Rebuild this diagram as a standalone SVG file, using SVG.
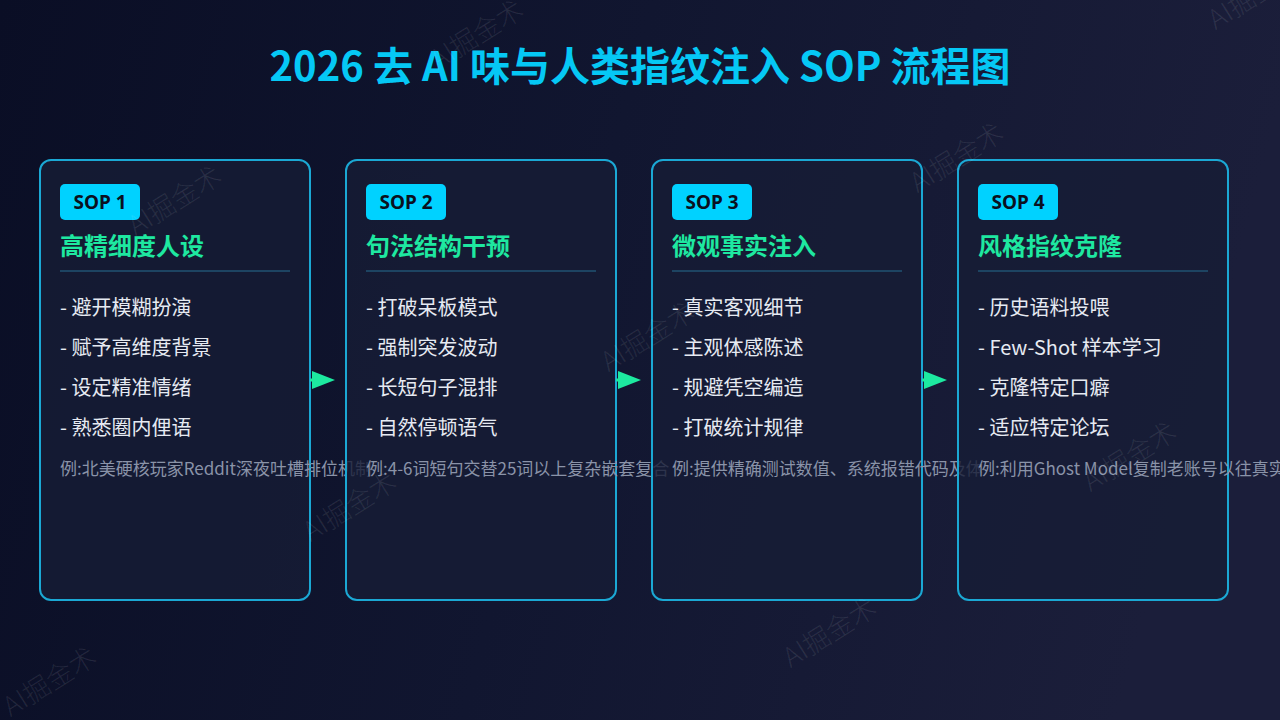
<svg xmlns="http://www.w3.org/2000/svg" width="1280" height="720" viewBox="0 0 1280 720">
<defs>
<linearGradient id="bg" x1="0" y1="0" x2="1" y2="0.15">
<stop offset="0" stop-color="#0a0e25"/>
<stop offset="0.5" stop-color="#111630"/>
<stop offset="1" stop-color="#1b1e3a"/>
</linearGradient>
<linearGradient id="uline" x1="0" y1="0" x2="1" y2="0">
<stop offset="0" stop-color="#1b5878"/>
<stop offset="0.5" stop-color="#1d5f80"/>
<stop offset="1" stop-color="#1b5878"/>
</linearGradient>
<marker id="arr" markerUnits="userSpaceOnUse" markerWidth="24" markerHeight="18" viewBox="0 0 24 18" refX="1" refY="9" orient="auto">
<path d="M0,0 L23,9 L0,18 Z" fill="#1de9a0"/>
</marker>
<style>
.card{fill:#171d36;fill-opacity:0.8;stroke:#1ba8d4;stroke-width:2}
.badge{fill:#00d2ff}
.badgeT{font-family:"Noto Sans","Noto Sans CJK SC",sans-serif;font-weight:700;font-size:19px;fill:#0a1020}
.head{font-family:"Noto Sans CJK SC",sans-serif;font-weight:700;font-size:24px;fill:#1ee8a0}
.div{stroke:#1d4462;stroke-width:2}
.item{font-family:"Noto Sans CJK SC",sans-serif;font-size:20px;fill:#e6eaf2}
.ex{font-family:"Noto Sans CJK SC",sans-serif;font-size:17px;fill:#8a93a8}
.wm{font-family:"Noto Sans CJK SC",sans-serif;font-weight:300;font-size:27px;fill:#ffffff;fill-opacity:0.09}
.conn{stroke:#1de9a0;stroke-width:3;fill:none}
</style>
</defs>
<rect width="1280" height="720" fill="url(#bg)"/>

<g id="title">
<text x="640" y="81" text-anchor="middle" font-family="'Noto Sans CJK SC',sans-serif" font-weight="700" font-size="40" fill="#05c8f5">2026 去 AI 味与人类指纹注入 SOP 流程图</text>
<line x1="160" y1="103" x2="1120" y2="103" stroke="url(#uline)" stroke-width="3"/>
</g>

<g id="sop1">
<rect class="card" x="40" y="160" width="270" height="440" rx="11"/>
<rect class="badge" x="60" y="184" width="80" height="36" rx="5"/>
<text class="badgeT" x="100" y="209" text-anchor="middle">SOP 1</text>
<text class="head" x="60" y="255">高精细度人设</text>
<line class="div" x1="60" y1="271" x2="290" y2="271"/>
<text class="item" x="60" y="315">- 避开模糊扮演</text>
<text class="item" x="60" y="355">- 赋予高维度背景</text>
<text class="item" x="60" y="395">- 设定精准情绪</text>
<text class="item" x="60" y="435">- 熟悉圈内俚语</text>
<text class="ex" x="60" y="475">例:北美硬核玩家Reddit深夜吐槽排位机制</text>
</g>

<g id="sop2">
<rect class="card" x="346" y="160" width="270" height="440" rx="11"/>
<rect class="badge" x="366" y="184" width="80" height="36" rx="5"/>
<text class="badgeT" x="406" y="209" text-anchor="middle">SOP 2</text>
<text class="head" x="366" y="255">句法结构干预</text>
<line class="div" x1="366" y1="271" x2="596" y2="271"/>
<text class="item" x="366" y="315">- 打破呆板模式</text>
<text class="item" x="366" y="355">- 强制突发波动</text>
<text class="item" x="366" y="395">- 长短句子混排</text>
<text class="item" x="366" y="435">- 自然停顿语气</text>
<text class="ex" x="366" y="475">例:4-6词短句交替25词以上复杂嵌套复合</text>
</g>

<g id="sop3">
<rect class="card" x="652" y="160" width="270" height="440" rx="11"/>
<rect class="badge" x="672" y="184" width="80" height="36" rx="5"/>
<text class="badgeT" x="712" y="209" text-anchor="middle">SOP 3</text>
<text class="head" x="672" y="255">微观事实注入</text>
<line class="div" x1="672" y1="271" x2="902" y2="271"/>
<text class="item" x="672" y="315">- 真实客观细节</text>
<text class="item" x="672" y="355">- 主观体感陈述</text>
<text class="item" x="672" y="395">- 规避凭空编造</text>
<text class="item" x="672" y="435">- 打破统计规律</text>
<text class="ex" x="672" y="475">例:提供精确测试数值、系统报错代码及体</text>
</g>

<g id="sop4">
<rect class="card" x="958" y="160" width="270" height="440" rx="11"/>
<rect class="badge" x="978" y="184" width="80" height="36" rx="5"/>
<text class="badgeT" x="1018" y="209" text-anchor="middle">SOP 4</text>
<text class="head" x="978" y="255">风格指纹克隆</text>
<line class="div" x1="978" y1="271" x2="1208" y2="271"/>
<text class="item" x="978" y="315">- 历史语料投喂</text>
<text class="item" x="978" y="355">- Few-Shot 样本学习</text>
<text class="item" x="978" y="395">- 克隆特定口癖</text>
<text class="item" x="978" y="435">- 适应特定论坛</text>
<text class="ex" x="978" y="475">例:利用Ghost Model复制老账号以往真实</text>
</g>

<g id="connectors">
<path class="conn" d="M310,380 H313" marker-end="url(#arr)"/>
<path class="conn" d="M616,380 H619" marker-end="url(#arr)"/>
<path class="conn" d="M922,380 H925" marker-end="url(#arr)"/>
</g>

<g id="watermarks">
<text class="wm" transform="translate(477,35) rotate(-32)" text-anchor="middle" dy="9">AI掘金术</text>
<text class="wm" transform="translate(175,201) rotate(-32)" text-anchor="middle" dy="9">AI掘金术</text>
<text class="wm" transform="translate(957,158) rotate(-32)" text-anchor="middle" dy="9">AI掘金术</text>
<text class="wm" transform="translate(1255,-5) rotate(-32)" text-anchor="middle" dy="9">AI掘金术</text>
<text class="wm" transform="translate(648,337) rotate(-32)" text-anchor="middle" dy="9">AI掘金术</text>
<text class="wm" transform="translate(350,507) rotate(-32)" text-anchor="middle" dy="9">AI掘金术</text>
<text class="wm" transform="translate(1130,457) rotate(-32)" text-anchor="middle" dy="9">AI掘金术</text>
<text class="wm" transform="translate(830,633) rotate(-32)" text-anchor="middle" dy="9">AI掘金术</text>
<text class="wm" transform="translate(50,682) rotate(-32)" text-anchor="middle" dy="9">AI掘金术</text>
</g>
</svg>
